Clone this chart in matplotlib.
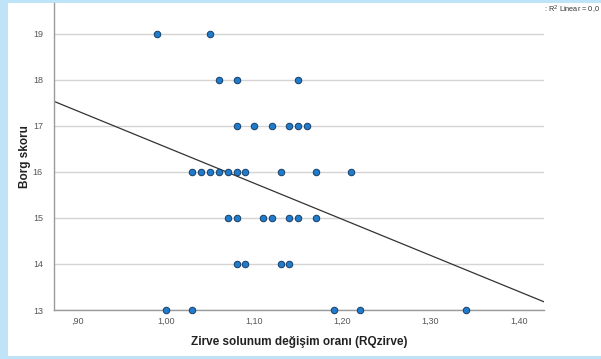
import numpy as np
import matplotlib
matplotlib.use("Agg")
import matplotlib.pyplot as plt
from matplotlib.patches import Rectangle
from matplotlib.ticker import FuncFormatter

plt.rcParams["font.family"] = ["Liberation Sans", "DejaVu Sans"]

# Data
borg_levels = [19, 18, 17, 16, 15, 14, 13]
rq_19 = [0.99, 1.05]
rq_18 = [1.06, 1.08, 1.15]
rq_17 = [1.08, 1.10, 1.12, 1.14, 1.15, 1.16]
rq_16 = [1.03, 1.04, 1.05, 1.06, 1.07, 1.08, 1.09, 1.13, 1.17, 1.21]
rq_15 = [1.07, 1.08, 1.11, 1.12, 1.14, 1.15, 1.17]
rq_14 = [1.08, 1.09, 1.13, 1.14]
rq_13 = [1.00, 1.03, 1.19, 1.22, 1.34]
x_ticks = [0.90, 1.00, 1.10, 1.20, 1.30, 1.40]
y_ticks = [13, 14, 15, 16, 17, 18, 19]

groups = [rq_19, rq_18, rq_17, rq_16, rq_15, rq_14, rq_13]
xs = np.concatenate([np.array(g) for g in groups])
ys = np.concatenate([np.full(len(g), lvl) for g, lvl in zip(groups, borg_levels)])

W, H = 601, 359
fig = plt.figure(figsize=(W / 100, H / 100), dpi=100)
fig.patch.set_facecolor("#bfe4f8")
fig.patches.append(Rectangle((8 / W, 3 / H), (W - 8) / W, (356 - 3) / H,
                             transform=fig.transFigure, facecolor="white",
                             edgecolor="none", zorder=-10))

ax = fig.add_axes([54 / W, (H - 310) / H, (544 - 54) / W, (310 - 3) / H])
ax.set_facecolor("none")

xmin, xmax = 0.873, 1.4287
ax.set_xlim(xmin, xmax)
ax.set_ylim(13, 19.67)

for yv in y_ticks:
    ax.axhline(yv, color="#d4d4d4", lw=1.0, zorder=1)

# Linear fit
slope, intercept = np.polyfit(xs, ys, 1)
lx = np.array([xmin, xmax])
ax.plot(lx, intercept + slope * lx, color="#333333", lw=0.9, zorder=2, clip_on=True)

ax.scatter(xs, ys, s=22, facecolor="#1f7ccc", edgecolor="#1a3d66", linewidths=0.7,
           zorder=3, clip_on=False)

ax.set_xticks(x_ticks)
ax.set_yticks(y_ticks)
ax.xaxis.set_major_formatter(FuncFormatter(lambda v, p: (f"{v:.2f}".replace(".", ",").lstrip("0"))))
ax.tick_params(axis="both", length=0, labelsize=6.5, labelcolor="#555555")
ax.tick_params(axis="x", pad=5)
ax.tick_params(axis="y", pad=8)

for s in ["top", "right"]:
    ax.spines[s].set_visible(False)
for s in ["left", "bottom"]:
    ax.spines[s].set_color("#9a9a9a")
    ax.spines[s].set_linewidth(1.0)
    ax.spines[s].set_zorder(2.5)

ax.set_xlabel("Zirve solunum değişim oranı (RQzirve)", fontsize=8.5, fontweight="bold",
              color="#222222", labelpad=7)
ax.set_ylabel("Borg skoru", fontsize=8.5, fontweight="bold", color="#222222")
ax.yaxis.set_label_coords(-0.046, 0.5)

fig.text(544 / W, 1 - 10 / H, ": R$^2$ Linear = 0,0", fontsize=5.3, color="#333333",
         va="center", ha="left")

fig.savefig("out.png", dpi=100)
